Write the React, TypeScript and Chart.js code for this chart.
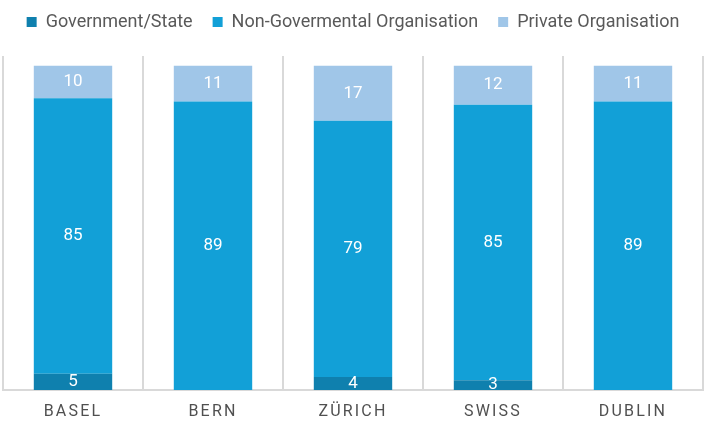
import React, { useEffect, useRef } from "react";
import { Chart, registerables } from "chart.js";

Chart.register(...registerables);

const categories = ["BASEL", "BERN", "ZÜRICH", "SWISS", "DUBLIN"];
const seriesNames = ["Government/State", "Non-Govermental Organisation", "Private Organisation"];
const governmentValues = [5, 0, 4, 3, 0];
const ngoValues = [85, 89, 79, 85, 89];
const privateValues = [10, 11, 17, 12, 11];
const seriesColors = ["#0F80AE", "#12A0D7", "#A0C6E8"];

// Writes each non-zero segment value in the middle of its bar segment,
// then widens the letter spacing for the category labels drawn afterwards.
const segmentLabels = {
  id: "segmentLabels",
  afterDatasetsDraw(chart: any) {
    const { ctx, chartArea } = chart;
    ctx.save();
    ctx.beginPath();
    ctx.rect(chartArea.left, chartArea.top, chartArea.right - chartArea.left, chartArea.bottom - chartArea.top);
    ctx.clip();
    ctx.font = "17px Roboto";
    ctx.fillStyle = "#FFFFFF";
    ctx.textAlign = "center";
    ctx.textBaseline = "middle";
    chart.data.datasets.forEach((ds: any, di: number) => {
      const meta = chart.getDatasetMeta(di);
      meta.data.forEach((bar: any, i: number) => {
        const v = ds.data[i];
        if (!v) return;
        const { x, y, base } = bar.getProps(["x", "y", "base"], true);
        ctx.fillText(String(v), x, (y + base) / 2);
      });
    });
    ctx.restore();
    ctx.letterSpacing = "2.2px";
  },
  afterDraw(chart: any) {
    chart.ctx.letterSpacing = "0px";
  },
};

// Gives the legend a fixed band height so the plot starts below it.
const legendBand = {
  id: "legendBand",
  afterInit(chart: any) {
    const lg = chart.legend;
    if (!lg) return;
    const fit = lg.fit.bind(lg);
    lg.fit = () => {
      fit();
      lg.height = 63;
    };
  },
};

export default function App() {
  const canvasRef = useRef<HTMLCanvasElement | null>(null);

  useEffect(() => {
    if (!canvasRef.current) return;
    const chart = new Chart(canvasRef.current, {
      type: "bar",
      data: {
        labels: categories,
        datasets: [
          { label: seriesNames[0], data: governmentValues, backgroundColor: seriesColors[0] },
          { label: seriesNames[1], data: ngoValues, backgroundColor: seriesColors[1] },
          { label: seriesNames[2], data: privateValues, backgroundColor: seriesColors[2] },
        ],
      },
      options: {
        responsive: false,
        animation: false,
        layout: { padding: { top: -7, left: 3, right: 7, bottom: 0 } },
        datasets: { bar: { categoryPercentage: 1, barPercentage: 0.56 } },
        plugins: {
          legend: {
            position: "top",
            labels: {
              boxWidth: 10,
              boxHeight: 10,
              padding: 20,
              color: "#595959",
              font: { family: "Roboto", size: 18 },
            },
          },
          tooltip: { enabled: false },
        },
        scales: {
          x: {
            stacked: true,
            grid: { color: "#D9D9D9", lineWidth: 2, drawTicks: false, offset: true },
            border: { color: "#D9D9D9", width: 2 },
            ticks: {
              z: 1,
              color: "#505050",
              padding: 12,
              maxRotation: 0,
              autoSkip: false,
              font: { family: "Roboto", size: 16 },
            },
            afterFit(scale: any) {
              scale.height = 37;
            },
          },
          y: {
            stacked: true,
            display: false,
            min: 0,
            max: 103,
          },
        },
      },
      plugins: [segmentLabels, legendBand],
    });
    return () => chart.destroy();
  }, []);

  return (
    <div style={{ position: "fixed", left: 0, top: 0, width: 710, height: 427, background: "#FFFFFF" }}>
      <canvas ref={canvasRef} width={710} height={427} />
    </div>
  );
}
